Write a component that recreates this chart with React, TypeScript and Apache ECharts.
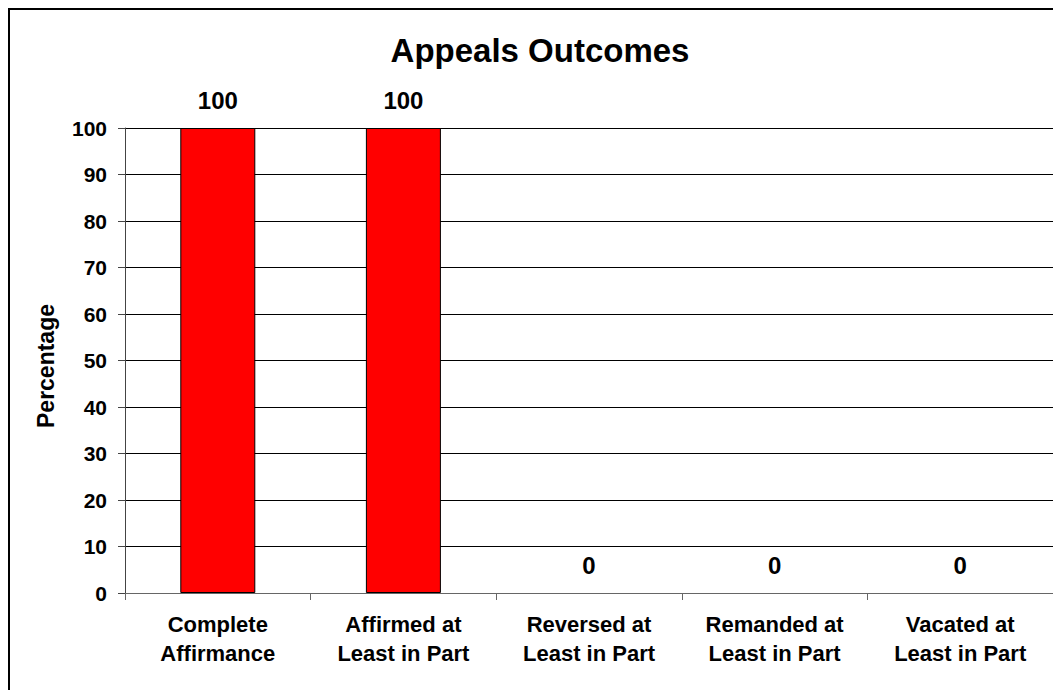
import React, { useEffect, useRef } from "react";
import * as echarts from "echarts";

// Outcome categories and their percentages
const categories: string[] = [
  "Complete\nAffirmance",
  "Affirmed at\nLeast in Part",
  "Reversed at\nLeast in Part",
  "Remanded at\nLeast in Part",
  "Vacated at\nLeast in Part",
];
const percentages: number[] = [100, 100, 0, 0, 0];

const titleText = "Appeals Outcomes";
const yAxisTitle = "Percentage";
const yMin = 0;
const yMax = 100;
const yStep = 10;

const FONT = "'Liberation Sans', Arial, Helvetica, sans-serif";

export default function App() {
  const ref = useRef<HTMLDivElement>(null);

  useEffect(() => {
    if (!ref.current) return;
    const chart = echarts.init(ref.current, null, { renderer: "svg" });
    // zero-height bars get no outline so the axis line stays clean
    const barData = percentages.map((v) =>
      v === 0 ? { value: v, itemStyle: { borderWidth: 0 } } : { value: v }
    );
    chart.setOption({
      animation: false,
      backgroundColor: "#ffffff",
      textStyle: { fontFamily: FONT },
      title: {
        text: titleText,
        left: 530,
        top: 24,
        textAlign: "center",
        padding: 0,
        textStyle: { fontSize: 33, fontWeight: "bold", color: "#000", fontFamily: FONT },
      },
      graphic: [
        {
          type: "text",
          x: 36,
          y: 356,
          rotation: Math.PI / 2,
          style: {
            text: yAxisTitle,
            fontSize: 23,
            fontWeight: "bold",
            fontFamily: FONT,
            fill: "#000",
            textAlign: "center",
            textVerticalAlign: "middle",
          },
        },
      ],
      grid: { left: 115, top: 118, right: 8, bottom: 97, containLabel: false },
      xAxis: {
        type: "category",
        data: categories,
        axisLine: { show: true, lineStyle: { color: "#666", width: 1 } },
        axisTick: { show: true, length: 7, interval: 0, lineStyle: { color: "#666" } },
        axisLabel: {
          interval: 0,
          margin: 17,
          fontSize: 22,
          fontWeight: "bold",
          color: "#000",
          lineHeight: 29,
          fontFamily: FONT,
        },
        splitLine: { show: false },
      },
      yAxis: {
        type: "value",
        min: yMin,
        max: yMax,
        interval: yStep,
        axisLine: { show: true, lineStyle: { color: "#444", width: 1 } },
        axisTick: { show: true, length: 7, lineStyle: { color: "#444" } },
        axisLabel: {
          margin: 18,
          fontSize: 21,
          fontWeight: "bold",
          color: "#000",
          fontFamily: FONT,
        },
        splitLine: { show: true, lineStyle: { color: "#000", width: 1 } },
      },
      series: [
        {
          type: "bar",
          data: barData,
          barWidth: 75,
          itemStyle: { color: "#ff0000", borderColor: "#000", borderWidth: 1 },
          label: {
            show: true,
            position: "top",
            distance: 16,
            fontSize: 24,
            fontWeight: "bold",
            color: "#000",
            fontFamily: FONT,
          },
        },
      ],
    });
    return () => chart.dispose();
  }, []);

  return (
    <div
      style={{
        width: 1053,
        height: 682,
        boxSizing: "border-box",
        borderLeft: "2px solid #000",
        borderTop: "2px solid #000",
        position: "relative",
        overflow: "hidden",
      }}
    >
      <div ref={ref} style={{ width: 1051, height: 680 }} />
    </div>
  );
}
